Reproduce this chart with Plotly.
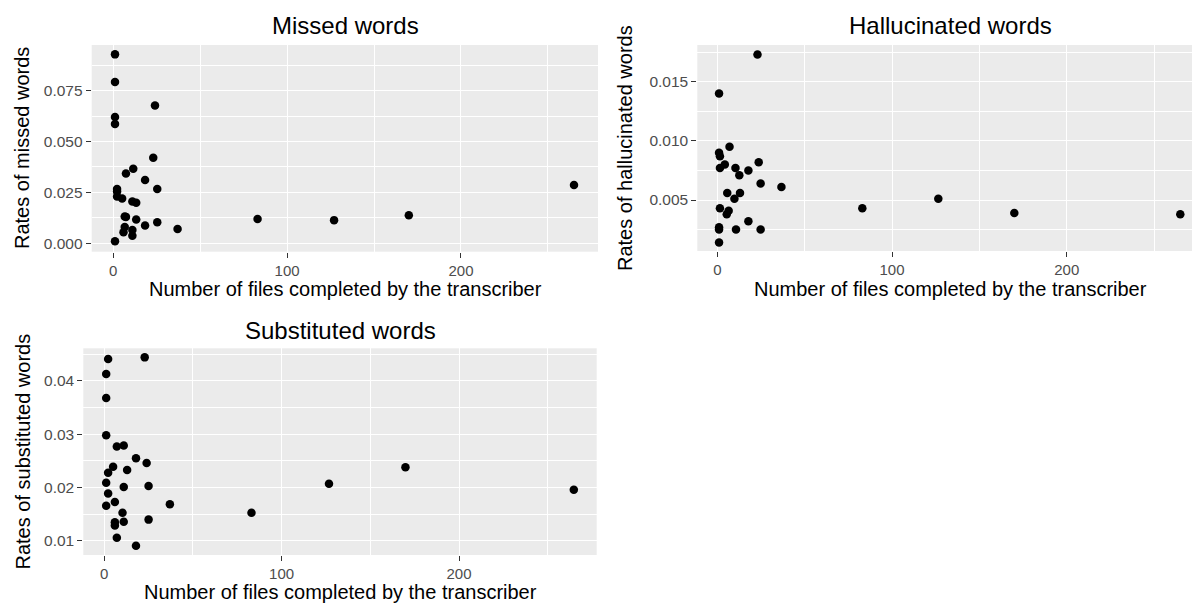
import plotly.graph_objects as go

# ---- data ----
missed_x = [1, 1, 1, 1, 24, 23, 11.5, 7.3, 18.3, 25.3, 2.2, 2.2, 2.2, 5.1, 11, 13.2,
            265, 6.6, 7.3, 13.2, 83, 127, 170, 25.3, 18.3, 37, 6.6, 11, 5.9, 11, 1]
missed_y = [0.0928, 0.0792, 0.0620, 0.0586, 0.0677, 0.0420, 0.0366, 0.0343, 0.0311,
            0.0267, 0.0267, 0.0255, 0.0230, 0.0220, 0.0205, 0.0199, 0.0286, 0.0132,
            0.0130, 0.0117, 0.0120, 0.0114, 0.0138, 0.0104, 0.0088, 0.0070, 0.0080,
            0.0066, 0.0054, 0.0037, 0.0010]

halluc_x = [23, 1, 7, 1, 1.5, 4.3, 1.5, 10.4, 17.8, 12.6, 23.7, 24.8, 36.7, 5.7, 13,
            9.8, 126.5, 83, 1.5, 6.5, 5.4, 170, 265, 17.8, 1, 1, 10.7, 24.8, 1]
halluc_y = [0.0173, 0.0140, 0.0095, 0.0090, 0.0087, 0.0080, 0.0077, 0.0077, 0.0075,
            0.0071, 0.0082, 0.0064, 0.0061, 0.0056, 0.0056, 0.0051, 0.0051, 0.0043,
            0.0043, 0.0041, 0.0038, 0.0039, 0.0038, 0.0032, 0.0027, 0.0025, 0.0025,
            0.0025, 0.0014]

subst_x = [2.2, 22.8, 1.1, 1.1, 1.1, 7.1, 11, 17.9, 23.9, 5, 12.9, 2.2, 1.1, 11, 25,
           2.2, 6, 1.1, 37, 10.3, 83, 126.7, 169.8, 264.7, 6, 6, 11, 25, 7.1, 17.9]
subst_y = [0.0441, 0.0444, 0.0413, 0.0368, 0.0298, 0.0277, 0.0279, 0.0255, 0.0246,
           0.0239, 0.0233, 0.0228, 0.0209, 0.0201, 0.0203, 0.0189, 0.0173, 0.0166,
           0.0169, 0.0153, 0.0153, 0.0207, 0.0238, 0.0196, 0.0135, 0.0129, 0.0136,
           0.0140, 0.0106, 0.0091]

x_ticks = [0, 100, 200]
missed_ticks = [0.0, 0.025, 0.05, 0.075]
halluc_ticks = [0.005, 0.010, 0.015]
subst_ticks = [0.01, 0.02, 0.03, 0.04]

titles = ["Missed words", "Hallucinated words", "Substituted words"]
y_titles = ["Rates of missed words", "Rates of hallucinated words", "Rates of substituted words"]
x_title = "Number of files completed by the transcriber"

W, H = 1192, 606
FONT = "Liberation Sans, Arial, Helvetica, sans-serif"

fig = go.Figure()
for i, (xs, ys) in enumerate([(missed_x, missed_y), (halluc_x, halluc_y), (subst_x, subst_y)]):
    suffix = "" if i == 0 else str(i + 1)
    fig.add_trace(go.Scatter(x=xs, y=ys, mode="markers",
                             marker=dict(color="black", size=8.5, line=dict(width=0)),
                             xaxis="x" + suffix, yaxis="y" + suffix, showlegend=False,
                             cliponaxis=False, hoverinfo="x+y"))


def px_x(p):
    return p / W


def px_y(p):
    return 1 - p / H


def xaxis(dom, rng, anchor):
    return dict(domain=dom, range=rng, anchor=anchor, tickvals=x_ticks,
                showgrid=True, gridcolor="white", gridwidth=1.3, zeroline=False,
                ticks="outside", ticklen=5, tickwidth=1.1, tickcolor="#333333",
                tickfont=dict(family=FONT, size=15, color="#4D4D4D"),
                minor=dict(dtick=50, tick0=0, showgrid=True, gridcolor="white", gridwidth=0.6),
                showline=False, fixedrange=True)


def yaxis(dom, rng, anchor, tv, fmt, mdt):
    return dict(domain=dom, range=rng, anchor=anchor, tickvals=tv, tickformat=fmt,
                showgrid=True, gridcolor="white", gridwidth=1.3, zeroline=False,
                ticks="outside", ticklen=5, tickwidth=1.1, tickcolor="#333333",
                tickfont=dict(family=FONT, size=15.5, color="#4D4D4D"),
                minor=dict(dtick=mdt, tick0=0, showgrid=True, gridcolor="white", gridwidth=0.6),
                showline=False, fixedrange=True)


fig.update_layout(
    width=W, height=H,
    margin=dict(l=0, r=0, t=0, b=0),
    paper_bgcolor="white", plot_bgcolor="#EBEBEB",
    xaxis=xaxis([px_x(91.7), px_x(598)], [-12.4, 278.8], "y"),
    yaxis=yaxis([px_y(251.7), px_y(45)], [-0.0041, 0.0974], "x", missed_ticks, ".3f", 0.0125),
    xaxis2=xaxis([px_x(697.3), 1.0], [-11.45, 271.7], "y2"),
    yaxis2=yaxis([px_y(251), px_y(45)], [0.00069, 0.0181], "x2", halluc_ticks, ".3f", 0.0025),
    xaxis3=xaxis([px_x(83.3), px_x(596.7)], [-11.8, 277.6], "y3"),
    yaxis3=yaxis([px_y(555), px_y(348.3)], [0.00737, 0.0461], "x3", subst_ticks, ".2f", 0.005),
)

ann = []
# panel titles
for txt, cx, cy in [(titles[0], 345, 25), (titles[1], 950, 25), (titles[2], 340, 330)]:
    ann.append(dict(text=txt, x=px_x(cx), y=px_y(cy), xref="paper", yref="paper",
                    xanchor="center", yanchor="middle", showarrow=False,
                    font=dict(family=FONT, size=24, color="black")))
# x-axis titles
for cx, cy in [(345, 289), (950, 289), (340, 592)]:
    ann.append(dict(text=x_title, x=px_x(cx), y=px_y(cy), xref="paper", yref="paper",
                    xanchor="center", yanchor="middle", showarrow=False,
                    font=dict(family=FONT, size=20, color="black")))
# y-axis titles
for txt, cx, cy in [(y_titles[0], 22, 148), (y_titles[1], 625, 148), (y_titles[2], 22, 451.5)]:
    ann.append(dict(text=txt, x=px_x(cx), y=px_y(cy), xref="paper", yref="paper",
                    xanchor="center", yanchor="middle", showarrow=False, textangle=-90,
                    font=dict(family=FONT, size=20, color="black")))
fig.update_layout(annotations=ann)

fig.write_html("out.html", config={"displayModeBar": False},
               post_script="document.body.style.margin='0';document.body.style.overflow='hidden';")
